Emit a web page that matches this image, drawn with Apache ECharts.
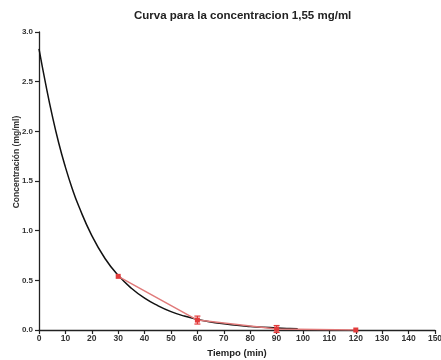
<!DOCTYPE html>
<html>
<head>
<meta charset="utf-8">
<script src="https://cdn.jsdelivr.net/npm/echarts@6/dist/echarts.min.js"></script>
<style>
  html, body { margin: 0; padding: 0; background: #fff; }
  #chart { width: 441px; height: 360px; }
</style>
</head>
<body>
<div id="chart"></div>
<script>
// curva ajustada
var curveTime = [0, 2.5, 5, 7.5, 10, 12.5, 15, 20, 25, 30, 35, 40, 45, 50, 55, 60, 65, 70, 75, 80, 85, 90, 95, 98];
var curveConc = [2.83, 2.48, 2.16, 1.88, 1.64, 1.43, 1.25, 0.95, 0.72, 0.55, 0.42, 0.32, 0.245, 0.185, 0.14, 0.107, 0.08, 0.062, 0.047, 0.036, 0.027, 0.02, 0.015, 0.013];

// datos medidos
var measTime = [30, 60, 90, 120];
var measConc = [0.54, 0.10, 0.01, 0.0];
var measErr = [0.0, 0.04, 0.035, 0.0];

var xTicks = [0, 10, 20, 30, 40, 50, 60, 70, 80, 90, 100, 110, 120, 130, 140, 150];

var fontFam = 'Liberation Sans, Arial, sans-serif';
var chart = echarts.init(document.getElementById('chart'));

var curveData = curveTime.map(function (t, i) { return [t, curveConc[i]]; });
var measData = measTime.map(function (t, i) { return [t, measConc[i]]; });
var errData = measTime.map(function (t, i) { return [t, measConc[i] - measErr[i], measConc[i] + measErr[i]]; })
  .filter(function (d, i) { return measErr[i] > 0; });

chart.setOption({
  backgroundColor: '#fff',
  animation: false,
  title: {
    text: 'Curva para la concentracion 1,55 mg/ml',
    left: 129,
    top: 5,
    textStyle: { fontFamily: fontFam, fontSize: 11.5, fontWeight: 'bold', color: '#222' }
  },
  // titulo del eje y, un poco por encima del centro como en el original
  graphic: [{
    type: 'text',
    x: 17,
    y: 162,
    rotation: Math.PI / 2,
    style: {
      text: 'Concentración (mg/ml)',
      fontFamily: fontFam, fontSize: 8.5, fontWeight: 'bold', fill: '#333',
      align: 'center', verticalAlign: 'middle'
    }
  }],
  grid: { left: 39, right: 6, top: 32, bottom: 30, containLabel: false, outerBoundsMode: 'none' },
  xAxis: {
    type: 'value',
    min: 0, max: 150, interval: 10,
    name: 'Tiempo (min)',
    nameLocation: 'middle',
    nameGap: 16,
    nameTextStyle: { fontFamily: fontFam, fontSize: 9.5, fontWeight: 'bold', color: '#222' },
    axisLine: { show: true, onZero: false, lineStyle: { color: '#222', width: 1.3 } },
    axisTick: { show: true, length: 4, lineStyle: { color: '#222', width: 1.2 } },
    axisLabel: { fontFamily: fontFam, fontSize: 8.5, fontWeight: 'bold', color: '#333', margin: 4,
      formatter: function (v) { return xTicks.indexOf(v) >= 0 ? v : ''; } },
    splitLine: { show: false }
  },
  yAxis: {
    type: 'value',
    min: 0, max: 3, interval: 0.5,
    axisLine: { show: true, lineStyle: { color: '#222', width: 1.3 } },
    axisTick: { show: true, length: 4, lineStyle: { color: '#222', width: 1.2 } },
    axisLabel: { fontFamily: fontFam, fontSize: 8, fontWeight: 'bold', color: '#333', margin: 6,
      formatter: function (v) { return v.toFixed(1); } },
    splitLine: { show: false }
  },
  series: [
    {
      name: 'ajuste',
      type: 'line',
      data: curveData,
      smooth: true,
      showSymbol: false,
      lineStyle: { color: '#111', width: 1.5 },
      z: 2
    },
    {
      name: 'medido',
      type: 'line',
      data: measData,
      symbol: 'rect',
      symbolSize: 5,
      itemStyle: { color: '#e23b3b' },
      lineStyle: { color: '#e07a7a', width: 1.5 },
      z: 3
    },
    {
      name: 'error',
      type: 'custom',
      data: errData,
      z: 4,
      renderItem: function (params, api) {
        var x = api.value(0);
        var lo = api.coord([x, api.value(1)]);
        var hi = api.coord([x, api.value(2)]);
        var w = 3;
        var st = { stroke: '#e23b3b', lineWidth: 1.2 };
        return {
          type: 'group',
          children: [
            { type: 'line', shape: { x1: lo[0], y1: lo[1], x2: hi[0], y2: hi[1] }, style: st },
            { type: 'line', shape: { x1: lo[0] - w, y1: lo[1], x2: lo[0] + w, y2: lo[1] }, style: st },
            { type: 'line', shape: { x1: hi[0] - w, y1: hi[1], x2: hi[0] + w, y2: hi[1] }, style: st }
          ]
        };
      }
    }
  ]
});
</script>
</body>
</html>
